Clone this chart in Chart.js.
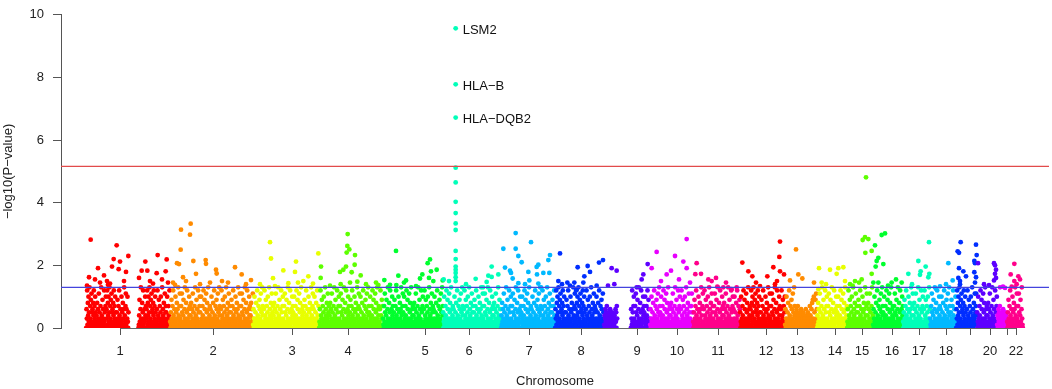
<!DOCTYPE html>
<html>
<head>
<meta charset="utf-8">
<script src="https://cdn.jsdelivr.net/npm/chart.js@4/dist/chart.umd.min.js"></script>
<style>
  html, body { margin: 0; padding: 0; background: #fff; }
</style>
</head>
<body>
<canvas id="manhattan" width="1052" height="389"></canvas>
<script>
'use strict';

// chromosome spans along the genome (Mb, cumulative)
const chrNames = ['1','2','3','4','5','6','7','8','9','10','11','12','13','14','15','16','17','18','19','20','21','22'];
const chrStart = [0,252,501,699,891,1071,1245,1407,1554,1692,1821,1962,2097,2193,2283,2361,2451,2532,2610,2673,2733,2763];
const chrEnd = [252,501,699,891,1071,1245,1407,1554,1692,1821,1962,2097,2193,2283,2361,2451,2532,2610,2673,2733,2763,2811];

// x axis ticks (Mb) and their labels
const tickPos = [102,381,618,786,1017,1149,1329,1485,1653,1773,1896,2040,2133,2247,2328,2418,2499,2580,2652,2712,2763,2790];
const tickLabels = ['1','2','3','4','5','6','7','8','9','10','11','12','13','14','15','16','17','18','','20','','22'];

// bulk of the SNPs, in order along each chromosome, as -log10(p) x 10 (null = no SNPs there)
const bulk1 = [
  0,6,3,12,1,8,4,10,2,5,13,0,7,3,9,1,11,5,2,6,0,8,4,12,1,7,3,10,5,2,
  0,4,1,8,2,6,0,3,11,1,5,2,0,7,3,13,1,4,2,9,0,6,3,1,12,2,5,0,7,10,
  0,6,3,12,1,8,4,10,2,5,13,0,7,3,9,1,11,5,2,6,0,8,4,12,1,7,3,10,5,2,
  2,0,5,1,9,3,0,7,2,12,4,1,0,6,3,2,10,0,5,1,8,3,6,1,13,0,4,2,7,11,
  1,6,0,3,10,2,0,5,null,null,null,null,null,null,null,null,null,null,null,null,null,null,null,null,null,null,null,null,null,null,
  null,null,null,null,null,null,null,0,1,4,9,2,0,6,13,3,1,0,8,2,5,12,1,3,0,6,2,10,4,7,
  0,6,3,12,1,8,4,10,2,5,13,0,7,3,9,1,11,5,2,6,0,8,4,12,1,7,3,10,5,2,
  0,2,6,1,12,0,4,3,9,1,0,7,2,5,10,3,0,1,13,2,6,4,0,8,1,3,11,2,5,7,
  5,0,2,10,1,3,0,7,4,1,12,2
];
const bulk2 = [
  2,0,5,1,9,3,0,7,2,12,4,1,0,6,3,2,10,0,5,1,8,3,6,1,13,0,4,2,7,11,
  3,1,0,7,2,11,5,0,1,4,9,2,0,6,13,3,1,0,8,2,5,12,1,3,0,6,2,10,4,7,
  0,4,1,8,2,6,0,3,11,1,5,2,0,7,3,13,1,4,2,9,0,6,3,1,12,2,5,0,7,10,
  5,0,2,10,1,3,0,7,4,1,12,2,0,9,6,1,3,0,11,2,5,8,0,3,13,1,2,6,4,7,
  1,6,0,3,10,2,0,5,1,8,3,0,12,2,4,1,7,0,2,9,6,3,0,11,1,5,2,13,4,7,
  0,2,6,1,12,0,4,3,9,1,0,7,2,5,10,3,0,1,13,2,6,4,0,8,1,3,11,2,5,7,
  2,0,5,1,9,3,0,7,2,12,4,1,0,6,3,2,10,0,5,1,8,3,6,1,13,0,4,2,7,11,
  3,1,0,7,2,11,5,0,1,4,9,2,0,6,13,3,1,0,8,2,5,12,1,3,0,6,2,10,4,7,
  0,4,1,8,2,6,0,3,11
];
const bulk3 = [
  1,6,0,3,10,2,0,5,1,8,3,0,12,2,4,1,7,0,2,9,6,3,0,11,1,5,2,13,4,7,
  0,2,6,1,12,0,4,3,9,1,0,7,2,5,10,3,0,1,13,2,6,4,0,8,1,3,11,2,5,7,
  0,4,1,8,2,6,0,3,11,1,5,2,0,7,3,13,1,4,2,9,0,6,3,1,12,2,5,0,7,10,
  3,1,0,7,2,11,5,0,1,4,9,2,0,6,13,3,1,0,8,2,5,12,1,3,0,6,2,10,4,7,
  5,0,2,10,1,3,0,7,4,1,12,2,0,9,6,1,3,0,11,2,5,8,0,3,13,1,2,6,4,7,
  2,0,5,1,9,3,0,7,2,12,4,1,0,6,3,2,10,0,5,1,8,3,6,1,13,0,4,2,7,11,
  1,6,0,3,10,2,0,5,1,8,3,0,12,2,4,1,7,0
];
const bulk4 = [
  0,2,6,1,12,0,4,3,9,1,0,7,2,5,10,3,0,1,13,2,6,4,0,8,1,3,11,2,5,7,
  0,4,1,8,2,6,0,3,11,1,5,2,0,7,3,13,1,4,2,9,0,6,3,1,12,2,5,0,7,10,
  3,1,0,7,2,11,5,0,1,4,9,2,0,6,13,3,1,0,8,2,5,12,1,3,0,6,2,10,4,7,
  2,0,5,1,9,3,0,7,2,12,4,1,0,6,3,2,10,0,5,1,8,3,6,1,13,0,4,2,7,11,
  1,6,0,3,10,2,0,5,1,8,3,0,12,2,4,1,7,0,2,9,6,3,0,11,1,5,2,13,4,7,
  5,0,2,10,1,3,0,7,4,1,12,2,0,9,6,1,3,0,11,2,5,8,0,3,13,1,2,6,4,7,
  0,2,6,1,12,0,4,3,9,1,0,7
];
const bulk5 = [
  3,1,0,7,2,11,5,0,1,4,9,2,0,6,13,3,1,0,8,2,5,12,1,3,0,6,2,10,4,7,
  2,0,5,1,9,3,0,7,2,12,4,1,0,6,3,2,10,0,5,1,8,3,6,1,13,0,4,2,7,11,
  5,0,2,10,1,3,0,7,4,1,12,2,0,9,6,1,3,0,11,2,5,8,0,3,13,1,2,6,4,7,
  0,4,1,8,2,6,0,3,11,1,5,2,0,7,3,13,1,4,2,9,0,6,3,1,12,2,5,0,7,10,
  0,2,6,1,12,0,4,3,9,1,0,7,2,5,10,3,0,1,13,2,6,4,0,8,1,3,11,2,5,7,
  1,6,0,3,10,2,0,5,1,8,3,0,12,2,4,1,7,0,2,9,6,3,0,11,1,5,2,13,4,7
];
const bulk6 = [
  5,0,2,10,1,3,0,7,4,1,12,2,0,9,6,1,3,0,11,2,5,8,0,3,13,1,2,6,4,7,
  1,6,0,3,10,2,0,5,1,8,3,0,12,2,4,1,7,0,2,9,6,3,0,11,1,5,2,13,4,7,
  0,2,6,1,12,0,4,3,9,1,0,7,2,5,10,3,0,1,13,2,6,4,0,8,1,3,11,2,5,7,
  2,0,5,1,9,3,0,7,2,12,4,1,0,6,3,2,10,0,5,1,8,3,6,1,13,0,4,2,7,11,
  3,1,0,7,2,11,5,0,1,4,9,2,0,6,13,3,1,0,8,2,5,12,1,3,0,6,2,10,4,7,
  0,4,1,8,2,6,0,3,11,1,5,2,0,7,3,13,1,4,2,9,0,6,3,1
];
const bulk7 = [
  0,4,1,8,2,6,0,3,11,1,5,2,0,7,3,13,1,4,2,9,0,6,3,1,12,2,5,0,7,10,
  3,1,0,7,2,11,5,0,1,4,9,2,0,6,13,3,1,0,8,2,5,12,1,3,0,6,2,10,4,7,
  5,0,2,10,1,3,0,7,4,1,12,2,0,9,6,1,3,0,11,2,5,8,0,3,13,1,2,6,4,7,
  1,6,0,3,10,2,0,5,1,8,3,0,12,2,4,1,7,0,2,9,6,3,0,11,1,5,2,13,4,7,
  0,2,6,1,12,0,4,3,9,1,0,7,2,5,10,3,0,1,13,2,6,4,0,8,1,3,11,2,5,7,
  2,0,5,1,9,3,0,7,2,12,4,1
];
const bulk8 = [
  0,6,3,12,1,8,4,10,2,5,13,0,7,3,9,1,11,5,2,6,0,8,4,12,1,7,3,10,5,2,
  2,0,5,1,9,3,0,7,2,12,4,1,0,6,3,2,10,0,5,1,8,3,6,1,13,0,4,2,7,11,
  0,6,3,12,1,8,4,10,2,5,13,0,7,3,9,1,11,5,2,6,0,8,4,12,1,7,3,10,5,2,
  0,2,6,1,12,0,4,3,9,1,0,7,2,5,10,3,0,1,13,2,6,4,0,8,1,3,11,2,5,7,
  1,6,0,3,10,2,0,5,1,8,3,0,12,2,4,1,7,0,2,9,6,3,0,11,1,5,2
];
const bulk9 = [
  1,4,0,3,6,2,5,0,7,3,1,4,0,2,5,1,3,0,6,2,4,1,0,3,5,2,0,4,1,3,
  1,4,0,3,6,2,5,0,7,3,null,null,null,null,null,null,null,null,null,null,null,null,null,null,null,null,null,null,null,null,
  null,null,null,null,null,null,null,null,null,null,null,null,null,null,null,null,null,null,null,null,0,6,3,1,12,2,5,0,7,10,
  3,1,0,7,2,11,5,0,1,4,9,2,0,6,13,3,1,0,8,2,5,12,1,3,0,6,2,10,4,7,
  5,0,2,10,1,3,0,7,4,1,12,2,0,9,6,1,3,0
];
const bulk10 = [
  1,6,0,3,10,2,0,5,1,8,3,0,12,2,4,1,7,0,2,9,6,3,0,11,1,5,2,13,4,7,
  5,0,2,10,1,3,0,7,4,1,12,2,0,9,6,1,3,0,11,2,5,8,0,3,13,1,2,6,4,7,
  0,4,1,8,2,6,0,3,11,1,5,2,0,7,3,13,1,4,2,9,0,6,3,1,12,2,5,0,7,10,
  0,2,6,1,12,0,4,3,9,1,0,7,2,5,10,3,0,1,13,2,6,4,0,8,1,3,11,2,5,7,
  3,1,0,7,2,11,5,0,1
];
const bulk11 = [
  2,0,5,1,9,3,0,7,2,12,4,1,0,6,3,2,10,0,5,1,8,3,6,1,13,0,4,2,7,11,
  0,2,6,1,12,0,4,3,9,1,0,7,2,5,10,3,0,1,13,2,6,4,0,8,1,3,11,2,5,7,
  3,1,0,7,2,11,5,0,1,4,9,2,0,6,13,3,1,0,8,2,5,12,1,3,0,6,2,10,4,7,
  0,4,1,8,2,6,0,3,11,1,5,2,0,7,3,13,1,4,2,9,0,6,3,1,12,2,5,0,7,10,
  1,6,0,3,10,2,0,5,1,8,3,0,12,2,4,1,7,0,2,9,6
];
const bulk12 = [
  5,0,2,10,1,3,0,7,4,1,12,2,0,9,6,1,3,0,11,2,5,8,0,3,13,1,2,6,4,7,
  0,6,3,12,1,8,4,10,2,5,13,0,7,3,9,1,11,5,2,6,0,8,4,12,1,7,3,10,5,2,
  2,0,5,1,9,3,0,7,2,12,4,1,0,6,3,2,10,0,5,1,8,3,6,1,13,0,4,2,7,11,
  3,1,0,7,2,11,5,0,1,4,9,2,0,6,13,3,1,0,8,2,5,12,1,3,0,6,2,10,4,7,
  0,2,6,1,12,0,4,3,9,1,0,7,2,5,10
];
const bulk13 = [
  1,6,0,3,10,2,0,5,1,8,3,0,12,2,4,1,7,0,2,9,6,3,0,11,1,5,2,13,4,7,
  1,4,0,3,6,2,5,0,7,3,1,4,0,2,5,1,3,0,6,2,4,1,0,3,5,2,0,4,1,3,
  3,0,6,2,4,1,0,3,5,2,0,4,1,3,7,1,4,0,3,6,2,8,0,9,3,1,10,0,5,2,
  2,9,1,11,3,6
];
const bulk14 = [
  0,4,1,8,2,6,0,3,11,1,5,2,0,7,3,13,1,4,2,9,0,6,3,1,12,2,5,0,7,10,
  3,1,0,7,2,11,5,0,1,4,9,2,0,6,13,3,1,0,8,2,5,12,1,3,0,6,2,10,4,7,
  5,0,2,10,1,3,0,7,4,1,12,2,0,9,6,1,3,0,11,2,5,8,0,3,13,1,2,6,4,7
];
const bulk15 = [
  0,2,6,1,12,0,4,3,9,1,0,7,2,5,10,3,0,1,13,2,6,4,0,8,1,3,11,2,5,7,
  2,0,5,1,9,3,0,7,2,12,4,1,0,6,3,2,10,0,5,1,8,3,6,1,13,0,4,2,7,11,
  0,4,1,8,2,6,0,3,11,1,5,2,0,7,3,13,1,4
];
const bulk16 = [
  1,6,0,3,10,2,0,5,1,8,3,0,12,2,4,1,7,0,2,9,6,3,0,11,1,5,2,13,4,7,
  5,0,2,10,1,3,0,7,4,1,12,2,0,9,6,1,3,0,11,2,5,8,0,3,13,1,2,6,4,7,
  3,1,0,7,2,11,5,0,1,4,9,2,0,6,13,3,1,0,8,2,5,12,1,3,0,6,2,10,4,7
];
const bulk17 = [
  2,0,5,1,9,3,0,7,2,12,4,1,0,6,3,2,10,0,5,1,8,3,6,1,13,0,4,2,7,11,
  0,4,1,8,2,6,0,3,11,1,5,2,0,7,3,13,1,4,2,9,0,6,3,1,12,2,5,0,7,10,
  0,2,6,1,12,0,4,3,9,1,0,7,2,5,10,3,0,1,13,2,6
];
const bulk18 = [
  3,1,0,7,2,11,5,0,1,4,9,2,0,6,13,3,1,0,8,2,5,12,1,3,0,6,2,10,4,7,
  1,6,0,3,10,2,0,5,1,8,3,0,12,2,4,1,7,0,2,9,6,3,0,11,1,5,2,13,4,7,
  2,0,5,1,9,3,0,7,2,12,4,1,0,6,3,2,10,0
];
const bulk19 = [
  0,6,3,12,1,8,4,10,2,5,13,0,7,3,9,1,11,5,2,6,0,8,4,12,1,7,3,10,5,2,
  0,2,6,1,12,0,4,3,9,1,0,7,2,5,10,3,0,1,13,2,6,4,0,8,1,3,11,2,5,7,
  11,1,4
];
const bulk20 = [
  5,0,2,10,1,3,0,7,4,1,12,2,0,9,6,1,3,0,11,2,5,8,0,3,13,1,2,6,4,7,
  0,4,1,8,2,6,0,3,11,1,5,2,0,7,3,13,1,4,2,9,0,6,3,1,12,2,5,0,7,10
];
const bulk21 = [1,4,0,3,6,2,5,0,7,3,1,4,0,2,5,1,3,0,6,2,4,1,0,3,5,2,0,4,1,3];
const bulk22 = [
  2,0,5,1,9,3,0,7,2,12,4,1,0,6,3,2,10,0,5,1,8,3,6,1,13,0,4,2,7,11,
  3,1,0,7,2,11,5,0,1,4,9,2,0,6,13,3,1,0
];

// SNPs above the bulk: [genome position (Mb), -log10(p)]
const peaks1 = [[14,2.82],[92,2.64],[83,2.2],[102,2.12],[127,2.3],[36,1.91],[78,1.96],[98,1.88],[120,1.79],[9,1.62],[54,1.68],[178,2.12],[215,2.33],[242,2.19],[167,1.83],[184,1.83],[239,1.81],[212,1.75],[27,1.55],[42,1.45],[63,1.5],[72,1.42],[114,1.5],[159,1.6],[192,1.5],[201,1.42],[228,1.55],[246,1.45],[66,1.38],[3,1.35]];
const peaks2 = [[314,3.33],[285,3.14],[312,2.98],[284,2.5],[273,2.07],[279,2.04],[322,2.14],[359,2.17],[360,2.05],[330,1.73],[390,1.86],[392,1.74],[447,1.94],[467,1.71],[495,1.53],[372,1.45],[291,1.62],[261,1.45],[300,1.5],[342,1.4],[408,1.5],[426,1.45],[480,1.4],[267,1.38]];
const peaks3 = [[552,2.74],[555,2.22],[697,2.38],[630,2.12],[592,1.84],[627,1.79],[667,1.65],[652,1.5],[607,1.43],[636,1.45],[567,1.34],[561,1.59],[522,1.4],[681,1.42]];
const peaks4 = [[785,3.0],[784,2.62],[790,2.51],[782,2.41],[807,2.33],[705,1.96],[762,1.79],[772,1.86],[780,1.96],[806,2.02],[797,1.78],[824,1.68],[792,1.45],[814,1.48],[704,1.6],[764,1.4],[870,1.45],[877,1.37],[732,1.35],[840,1.4]];
const peaks5 = [[930,2.46],[1032,2.19],[1025,2.07],[1052,1.86],[1035,1.81],[937,1.67],[1009,1.71],[1002,1.58],[960,1.52],[954,1.45],[895,1.53],[1070,1.52],[1029,1.6],[1042,1.5],[931,1.37],[990,1.34],[912,1.38]];
const peaks6 = [[1109,9.57],[1109,7.78],[1109,6.72],[1109,5.12],[1109,4.65],[1109,4.03],[1109,3.67],[1109,3.34],[1109,3.13],[1109,2.46],[1109,2.2],[1109,1.96],[1109,1.86],[1109,1.76],[1109,1.62],[1109,1.5],[1073,1.55],[1089,1.5],[1169,1.57],[1217,1.96],[1217,1.63],[1237,1.71],[1202,1.47],[1191,1.3],[1207,1.67],[1140,1.4]];
const peaks7 = [[1289,3.03],[1252,2.53],[1289,2.53],[1335,2.74],[1297,2.3],[1307,2.1],[1392,2.33],[1387,2.17],[1257,1.93],[1272,1.83],[1275,1.76],[1357,2.02],[1352,1.95],[1327,1.79],[1372,1.76],[1390,1.76],[1353,1.71],[1280,1.58],[1297,1.43],[1330,1.52],[1357,1.42],[1365,1.3],[1317,1.4]];
const peaks8 = [[1422,2.38],[1475,1.94],[1505,1.98],[1539,2.09],[1551,2.17],[1495,1.65],[1512,1.79],[1417,1.5],[1428,1.4],[1444,1.45],[1465,1.45],[1492,1.45],[1532,1.35],[1472,1.22],[1452,1.35]];
const peaks9 = [[1577,1.91],[1592,1.83],[1585,1.4],[1685,2.04],[1672,1.71],[1667,1.55],[1652,1.3],[1566,1.35]];
const peaks10 = [[1802,2.84],[1712,2.43],[1697,1.91],[1755,1.83],[1767,2.3],[1792,2.12],[1742,1.71],[1802,1.91],[1725,1.5],[1779,1.55],[1812,1.45]];
const peaks11 = [[1832,2.07],[1845,1.73],[1828,1.72],[1867,1.55],[1877,1.5],[1890,1.6],[1894,1.32],[1937,1.24],[1912,1.3],[1952,1.3],[1920,1.45]];
const peaks12 = [[2082,2.76],[2080,2.27],[1969,2.09],[2062,1.94],[1987,1.81],[1999,1.65],[2044,1.65],[2082,1.81],[2094,1.71],[2022,1.34],[2067,1.4],[2073,1.5],[2010,1.45]];
const peaks13 = [[2130,2.51],[2137,1.71],[2112,1.52],[2184,1.45],[2149,1.58]];
const peaks14 = [[2199,1.91],[2232,1.86],[2257,1.91],[2272,1.94],[2252,1.73],[2277,1.5],[2207,1.45],[2197,1.24],[2220,1.4]];
const peaks15 = [[2340,4.81],[2330,2.81],[2337,2.9],[2347,2.84],[2338,2.4],[2357,2.46],[2357,1.73],[2327,1.55],[2307,1.5],[2292,1.4],[2319,1.45],[2300,1.35]];
const peaks16 = [[2387,2.97],[2397,3.02],[2367,2.64],[2377,2.24],[2372,2.14],[2392,2.04],[2369,1.96],[2362,1.45],[2377,1.45],[2417,1.45],[2430,1.55],[2447,1.45],[2406,1.35]];
const peaks17 = [[2529,2.74],[2467,1.73],[2497,2.14],[2504,1.81],[2519,1.96],[2527,1.62],[2502,1.7],[2478,1.4],[2530,1.73]];
const peaks18 = [[2587,2.07],[2600,1.52],[2580,1.4],[2562,1.33],[2550,1.25]];
const peaks19 = [[2624,2.74],[2615,2.45],[2619,2.4],[2619,1.91],[2632,1.81],[2640,1.65],[2617,1.6],[2622,1.5],[2670,2.66],[2672,2.33],[2665,2.14],[2667,2.07],[2665,1.78],[2670,1.62],[2622,1.4],[2667,1.45]];
const peaks20 = [[2676,2.07],[2724,2.07],[2727,2.0],[2730,1.86],[2727,1.73],[2730,1.6],[2724,1.52],[2709,1.37],[2694,1.4]];
const peaks21 = [[2751,1.32],[2742,1.3],[2757,1.28]];
const peaks22 = [[2785,2.05],[2774,1.71],[2797,1.65],[2785,1.5],[2792,1.4],[2777,1.32],[2802,1.55]];

// named hits on chromosome 6
const hitGenes = ['LSM2', 'HLA\u2212B', 'HLA\u2212DQB2'];
const hitValues = [9.57, 7.78, 6.72];

// significance lines
const suggestiveLine = 1.3;
const genomeWideLine = 5.16;

const bulkValues = [bulk1,bulk2,bulk3,bulk4,bulk5,bulk6,bulk7,bulk8,bulk9,bulk10,bulk11,bulk12,bulk13,bulk14,bulk15,bulk16,bulk17,bulk18,bulk19,bulk20,bulk21,bulk22];
const peakValues = [peaks1,peaks2,peaks3,peaks4,peaks5,peaks6,peaks7,peaks8,peaks9,peaks10,peaks11,peaks12,peaks13,peaks14,peaks15,peaks16,peaks17,peaks18,peaks19,peaks20,peaks21,peaks22];

const palette = ['#FF0000','#FF8B00','#E8FF00','#5DFF00','#00FF2E','#00FFB9','#00B9FF','#002EFF','#5D00FF','#E800FF','#FF008B'];
const FONT = '"Liberation Sans", Arial, Helvetica, sans-serif';

function chrPoints(c) {
  const vals = bulkValues[c];
  const step = (chrEnd[c] - chrStart[c]) / vals.length;
  const pts = [];
  vals.forEach(function(v, i) {
    if (v === null) return;
    pts.push({ x: chrStart[c] + (i + 0.5) * step, y: v / 10 });
  });
  peakValues[c].forEach(function(p) {
    pts.push({ x: p[0], y: p[1] });
  });
  return pts;
}

const datasets = chrNames.map(function(name, c) {
  return {
    label: 'chr' + name,
    data: chrPoints(c),
    backgroundColor: palette[c % palette.length],
    pointRadius: 2.4,
    pointBorderWidth: 0,
    pointHoverRadius: 0,
    clip: 0,
    order: chrNames.length - c
  };
});

const overlay = {
  id: 'overlay',
  afterDatasetsDraw(chart) {
    const ctx = chart.ctx;
    const x = chart.scales.x;
    const y = chart.scales.y;
    const area = chart.chartArea;
    ctx.save();

    // axis line from first to last chromosome tick
    ctx.strokeStyle = '#666';
    ctx.lineWidth = 1;
    ctx.beginPath();
    ctx.moveTo(Math.round(x.getPixelForValue(tickPos[0])), Math.round(area.bottom) + 0.5);
    ctx.lineTo(Math.round(x.getPixelForValue(tickPos[tickPos.length - 1])), Math.round(area.bottom) + 0.5);
    ctx.stroke();

    ctx.lineWidth = 1.3;
    [[genomeWideLine, '#e24b4b'], [suggestiveLine, '#4444dd']].forEach(function(l) {
      const py = y.getPixelForValue(l[0]);
      ctx.strokeStyle = l[1];
      ctx.beginPath();
      ctx.moveTo(area.left, py);
      ctx.lineTo(area.right, py);
      ctx.stroke();
    });

    // gene names next to the top hits
    const meta = chart.getDatasetMeta(5);
    const data = chart.data.datasets[5].data;
    ctx.font = '13px ' + FONT;
    ctx.fillStyle = '#111';
    ctx.textAlign = 'left';
    ctx.textBaseline = 'middle';
    hitGenes.forEach(function(gene, k) {
      const idx = data.findIndex(function(p) { return p.y === hitValues[k]; });
      const el = meta.data[idx];
      ctx.fillText(gene, el.x + 7, el.y + 2);
    });
    ctx.restore();
  }
};

const context = document.querySelector('#manhattan').getContext('2d');
new Chart(context, {
  type: 'scatter',
  data: { datasets: datasets },
  options: {
    responsive: false,
    animation: false,
    events: [],
    layout: { padding: { top: 6, right: 3, left: 0, bottom: 0 } },
    plugins: {
      legend: { display: false },
      tooltip: { enabled: false }
    },
    scales: {
      x: {
        type: 'linear',
        min: -75,
        max: 2889,
        afterBuildTicks: function(scale) {
          scale.ticks = tickPos.map(function(v) { return { value: v }; });
        },
        afterFit: function(scale) { scale.height = 61; },
        ticks: {
          autoSkip: false,
          maxRotation: 0,
          padding: 9,
          color: '#222',
          font: { family: FONT, size: 13 },
          callback: function(value, index) { return tickLabels[index]; }
        },
        grid: { drawOnChartArea: false, tickLength: 7, color: '#555' },
        border: { display: false },
        title: {
          display: true,
          text: 'Chromosome',
          color: '#222',
          font: { family: FONT, size: 13 },
          padding: 0
        }
      },
      y: {
        min: 0,
        max: 10,
        afterFit: function(scale) { scale.width = 61; },
        ticks: {
          stepSize: 2,
          padding: 9,
          color: '#222',
          font: { family: FONT, size: 13, lineHeight: 0.9 }
        },
        grid: { drawOnChartArea: false, tickLength: 8, color: '#555' },
        border: { display: true, color: '#555' },
        title: {
          display: true,
          text: '\u2212log10(P\u2212value)',
          color: '#222',
          font: { family: FONT, size: 13 },
          padding: { top: 1, bottom: 0 }
        }
      }
    }
  },
  plugins: [overlay]
});
</script>
</body>
</html>
